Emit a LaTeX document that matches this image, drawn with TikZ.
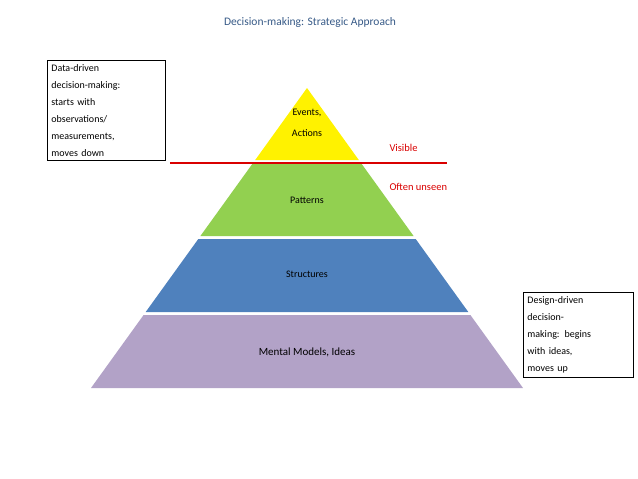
\documentclass[tikz,border=0pt]{standalone}
\usepackage{fontspec}
\setmainfont{Carlito}
\begin{document}
\begin{tikzpicture}[x=1pt,y=-1pt,
  lbl/.style={font=\fontsize{10}{12}\selectfont,text=black},
  side/.style={draw=black,line width=0.8pt,align=left,anchor=north west,inner sep=4pt,font=\fontsize{10}{17}\selectfont,text width=#1},
  redtxt/.style={font=\fontsize{10.5}{12}\selectfont,text=red!85!black,anchor=west}]
\useasboundingbox (0,0) rectangle (638,479);
\fill[yellow] (307,88) -- (358.8,160) -- (255.2,160) -- cycle;
\fill[fill={rgb,255:red,146;green,208;blue,80}] (253,163) -- (361,163) -- (413.6,236) -- (200.4,236) -- cycle;
\fill[fill={rgb,255:red,79;green,129;blue,189}] (198.3,239) -- (415.7,239) -- (468.3,312) -- (145.7,312) -- cycle;
\fill[fill={rgb,255:red,178;green,162;blue,199}] (143.6,315) -- (470.4,315) -- (523,388) -- (91,388) -- cycle;
\node[lbl,align=center,font=\fontsize{10}{21}\selectfont] (ev) at (307,123) {Events,\\Actions};
\node[lbl] (pa) at (307,200) {Patterns};
\node[lbl] (st) at (307,274) {Structures};
\node[lbl,font=\fontsize{11}{13}\selectfont] (mm) at (307,352) {Mental Models, Ideas};
\coordinate (rl) at (170,163);
\coordinate (rr) at (447,163);
\draw[red!85!black,line width=1.6pt] (rl) -- (rr);
\node[redtxt] (vis) at (386,148) {Visible};
\node[redtxt] (ou) at (386,187) {Often unseen};
\node[font=\fontsize{11.5}{14}\selectfont,text={rgb,255:red,55;green,90;blue,135}] (title) at (310,22) {Decision-making: Strategic Approach};
\node[side=110pt] (lb) at (47,60) {Data-driven\\decision-making:\\starts with\\observations/\\measurements,\\moves down};
\node[side=102pt] (rb) at (523,292) {Design-driven\\decision-\\making: begins\\with ideas,\\moves up};
\end{tikzpicture}
\end{document}
